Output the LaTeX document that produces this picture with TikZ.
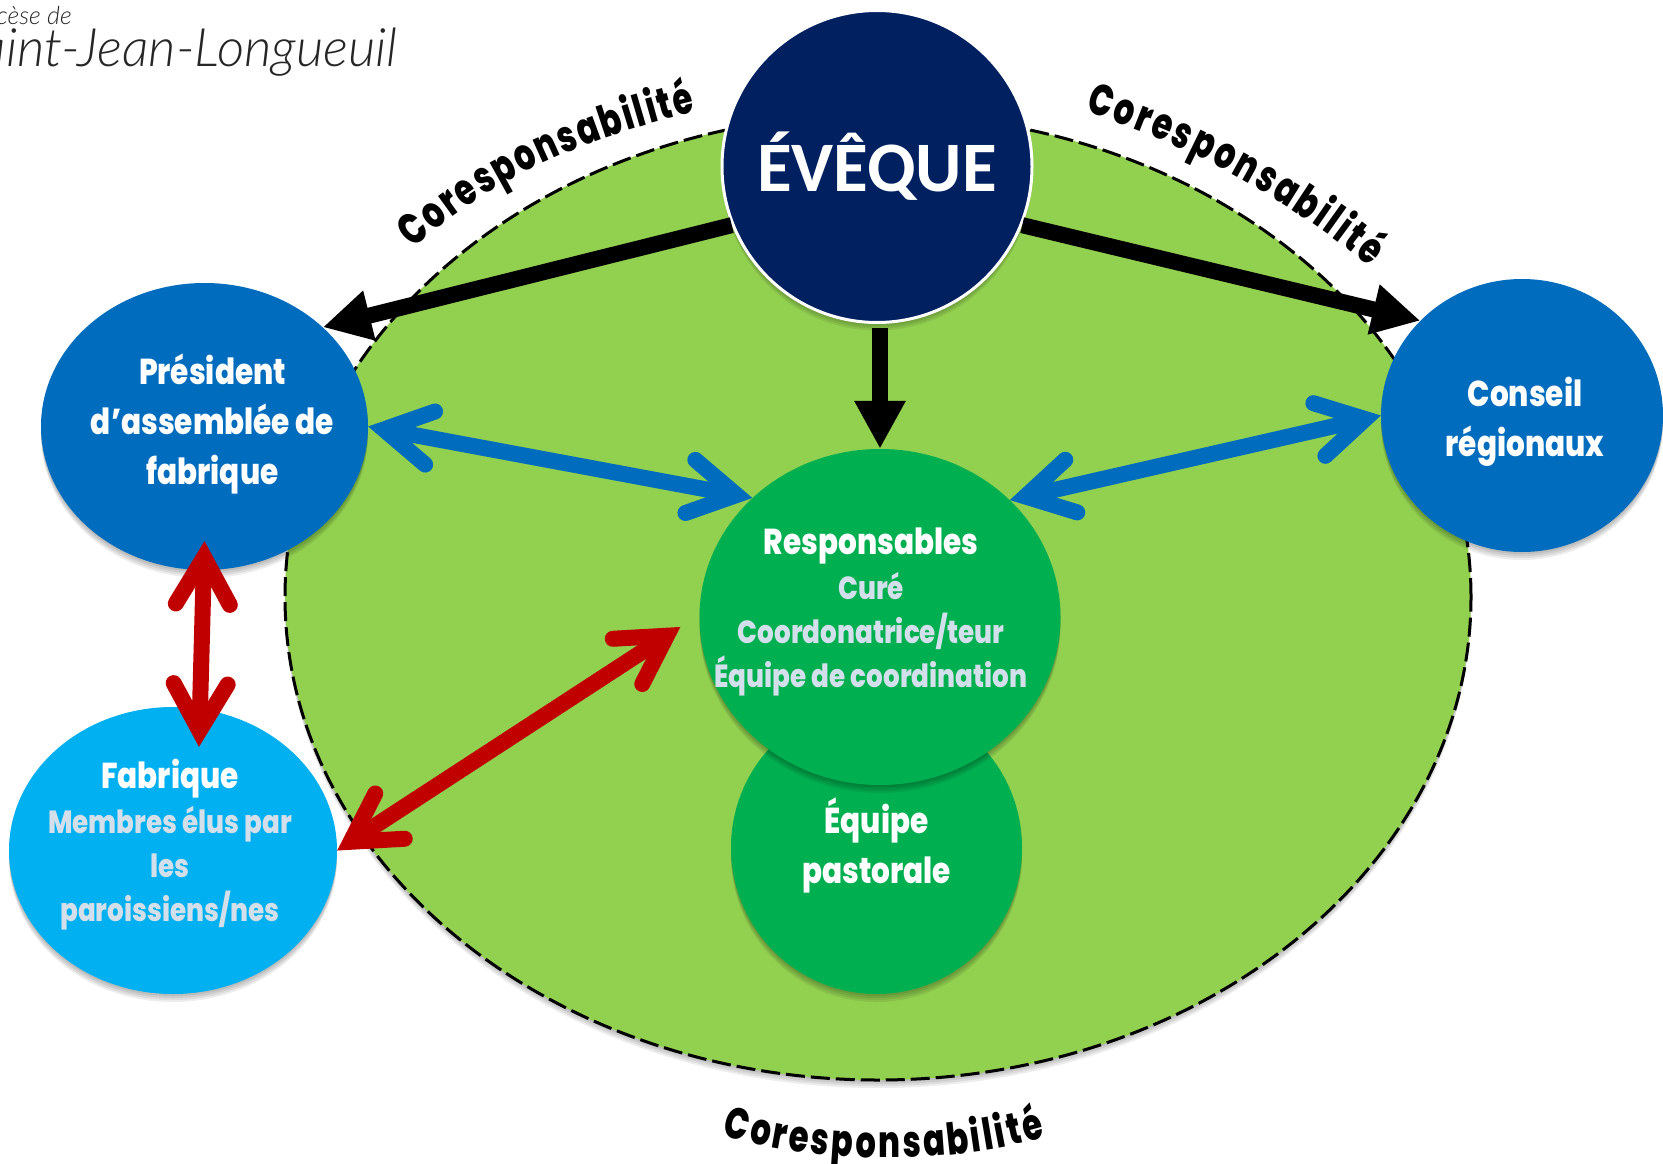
\documentclass[tikz,border=0pt]{standalone}
\usepackage{fontspec}
\usetikzlibrary{arrows.meta,shapes.geometric,decorations.text}
\newfontfamily\fut[FakeStretch=0.82]{Poppins ExtraBold}
\newfontfamily\futnarrow[FakeStretch=0.73]{Poppins ExtraBold}
\newfontfamily\carl{Carlito}
\newfontfamily\logofont{Lato Light Italic}
\definecolor{navy}{HTML}{002060}
\definecolor{midblue}{HTML}{006CBE}
\definecolor{skyblue}{HTML}{00B0F0}
\definecolor{dkgreen}{HTML}{00AF50}
\definecolor{lawn}{HTML}{92D050}
\definecolor{dkred}{HTML}{C00000}
\definecolor{pale}{HTML}{D3DFEA}
\pgfdeclarearrow{
  name=OpenBarb,
  setup code={\pgfarrowssettipend{0pt}\pgfarrowssetlineend{-17pt}},
  drawing code={
    \pgfsetlinewidth{16pt}\pgfsetroundcap\pgfsetmiterjoin
    \pgfpathmoveto{\pgfqpoint{-63pt}{27pt}}
    \pgfpathlineto{\pgfqpoint{-16pt}{0pt}}
    \pgfpathlineto{\pgfqpoint{-63pt}{-27pt}}
    \pgfusepathqstroke
  },
}
\tikzset{
  softshadow/.style={
    preaction={draw=none,fill=black,opacity=.07,transform canvas={yshift=-2pt}},
    preaction={draw=none,fill=black,opacity=.07,transform canvas={yshift=-4pt}},
    preaction={draw=none,fill=black,opacity=.07,transform canvas={yshift=-6pt}},
    preaction={draw=none,fill=black,opacity=.07,transform canvas={yshift=-8pt}}},
  blob/.style={ellipse,inner sep=0pt,draw=none,softshadow},
  title/.style={font=\fut\fontsize{36}{50}\selectfont,text=white,align=center},
  heavy/.style={draw=black,line width=16pt,-{Triangle[length=48pt,width=48pt]}},
  bluelink/.style={draw=midblue,line width=16pt,{OpenBarb}-{OpenBarb}},
  redlink/.style={draw=dkred,line width=16pt,{OpenBarb}-{OpenBarb}},
  curved/.style={decorate,decoration={text along path,text align=fit to path,text={|\futnarrow\fontsize{44}{44}\selectfont|Coresponsabilité}}},
}
\newcommand{\sub}[1]{{\color{pale}\fontsize{32}{43}\selectfont #1}}
\begin{document}
\begin{tikzpicture}[x=1pt,y=-1pt]
\useasboundingbox[fill=white] (0,0) rectangle (1663,1164);
% large field
\node[blob,name=field,fill=lawn,draw=black,line width=3pt,dash pattern=on 19pt off 6pt,minimum width=1186pt,minimum height=966pt] at (878,597) {};
% logo
\node[name=logoa,anchor=base east,inner sep=0pt,font=\logofont\fontsize{25}{25}\selectfont,text=black!85] at (72,25) {Diocèse de};
\node[name=logob,anchor=base east,inner sep=0pt,font=\logofont\fontsize{53}{53}\selectfont,text=black!85] at (398,66.6) {Saint-Jean-Longueuil};
% lower inner circles
\node[blob,name=equipe,fill=dkgreen,minimum width=291pt,minimum height=293pt,
  label={[name=equipetxt,title,yshift=2pt]center:Équipe\\pastorale}] at (876.5,847.5) {};
\node[blob,name=resp,fill=dkgreen,minimum width=361pt,minimum height=336pt,
  label={[name=resptxt,title,xshift=-9pt,yshift=5pt]center:Responsables\\[-5pt]\sub{Curé}\\[-6pt]\sub{Coordonatrice/teur}\\[-6pt]\sub{Équipe de coordination}}] at (880,617) {};
% outer circles
\node[blob,name=pres,fill=midblue,minimum width=327pt,minimum height=287pt,
  label={[name=prestxt,title,xshift=8pt,yshift=2pt]center:Président\\d’assemblée de\\fabrique}] at (204.5,426.5) {};
\node[blob,name=conseil,fill=midblue,minimum width=282pt,minimum height=273pt,
  label={[name=conseiltxt,title,xshift=3pt,yshift=-6pt]center:Conseil\\régionaux}] at (1522,415.5) {};
\node[blob,name=fab,fill=skyblue,minimum width=328pt,minimum height=287pt,
  label={[name=fabtxt,title,xshift=-3pt,yshift=5.5pt]center:Fabrique\\[-5pt]\sub{Membres élus par}\\[-6pt]\sub{les}\\[-6pt]\sub{paroissiens/nes}}] at (173,850.5) {};
\node[blob,name=eveque,fill=navy,draw=white,line width=3pt,minimum width=310pt,minimum height=312pt,
  label={[name=evequetxt,text=white,font=\carl\bfseries\fontsize{71}{71}\selectfont]center:ÉVÊQUE}] at (877,166.5) {};
% connectors
\draw[heavy] (eveque.202) -- (pres.40);
\draw[heavy] (eveque.-22) -- (conseil.137);
\draw[heavy] ([yshift=-4pt]resp.north |- eveque.south) -- (resp.north);
\draw[bluelink] (pres.east) -- (resp.137);
\draw[bluelink] (resp.42) -- (conseil.west);
\draw[redlink] ([yshift=29pt]pres.south) -- ([xshift=26pt,yshift=-40pt]fab.north);
\draw[redlink] (fab.east) -- ([xshift=-19pt,yshift=-10pt]resp.west);
% curved labels
\path[curved] (414,249) .. controls (500,170) and (600,135) .. (696,112);
\path[curved] (1085,112) .. controls (1180,140) and (1290,200) .. (1370,267);
\path[curved] (722,1135) .. controls (820,1165) and (950,1165) .. (1045,1137);
\end{tikzpicture}
\end{document}
